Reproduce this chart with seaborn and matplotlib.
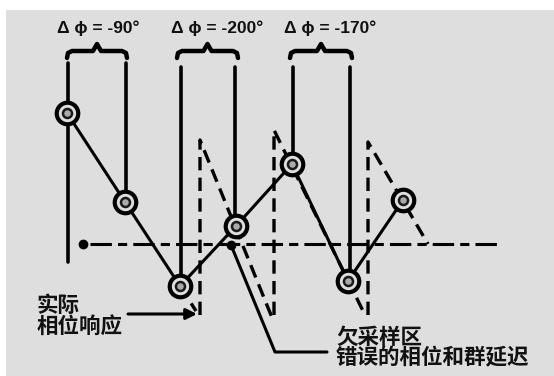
import numpy as np
import pandas as pd
import matplotlib
matplotlib.use("Agg")
import matplotlib.pyplot as plt
import seaborn as sns

# --- dados do diagrama (unidades do desenho: x = frequência, y = fase, eixo y invertido) ---
sample_x = [67, 125, 180, 236, 292, 348, 403]
sample_y = [113, 202, 286, 226, 164, 281, 200]

# fase verdadeira "enrolada" (dente de serra tracejado), um segmento por id
wrap_seg = [0, 0, 1, 1, 1, 2, 2, 2, 3, 3, 3]
wrap_x = [180, 196, 200, 200, 273, 274, 274, 365, 368, 368, 428]
wrap_y = [286, 311, 315, 140, 320, 315, 130, 315, 315, 142, 244]

# linhas verticais de referência (topo -> amostra)
vline_x = [68, 126, 181, 235, 293, 350]
vline_top = [63, 63, 67, 67, 67, 67]
vline_bottom = [262, 202, 286, 226, 165, 281]

# chaves e rótulos de delta fase
brace_left = [67, 177, 290]
brace_right = [127, 238, 352]
delta_labels = ["Δ ϕ = -90°", "Δ ϕ = -200°", "Δ ϕ = -170°"]
delta_label_x = [57, 171, 284]

# eixo tracejado-pontilhado
axis_x = [90, 497]
axis_y = [244, 244]
axis_dot = (83, 244)

# anotações
leader_x = [231, 275, 327]
leader_y = [245, 352, 352]
arrow_from = (128, 314)
arrow_to = (197, 314)

sns.set_theme(style="white")
plt.rcParams['font.family'] = ['Noto Sans CJK SC', 'DejaVu Sans']

GRAY = "#dedede"
fig = plt.figure(figsize=(5.54, 3.76), dpi=100, facecolor="white")
ax = fig.add_axes([6 / 554, 0, 548 / 554, 366 / 376], facecolor=GRAY)
ax.set_xlim(6, 554)
ax.set_ylim(376, 10)
ax.axis("off")
ax.add_patch(plt.Rectangle((6, 10), 548, 366, color=GRAY, zorder=0))

# linhas verticais sólidas
for x, t, b in zip(vline_x, vline_top, vline_bottom):
    sns.lineplot(x=[x, x], y=[t, b], color="black", lw=2.6, sort=False,
                 estimator=None, ax=ax)

# chaves
for l, r in zip(brace_left, brace_right):
    c = (l + r) / 2
    bx = [l, l + 1, l + 5, c - 4, c, c + 4, r - 5, r - 1, r]
    by = [58, 53, 51, 51, 44, 51, 51, 53, 58]
    ax.plot(bx, by, color="black", lw=3.2, solid_capstyle="round",
            solid_joinstyle="round")

for lab, x in zip(delta_labels, delta_label_x):
    ax.text(x, 28, lab, ha="left", va="center", fontsize=12.5,
            fontweight="bold", family=['Liberation Sans', 'DejaVu Sans'],
            color="#111111")

# eixo horizontal
ax.plot(axis_x, axis_y, color="black", lw=2.2, dashes=(7, 2, 3, 2))
ax.plot(*axis_dot, "o", color="black", ms=6)

# dente de serra tracejado
wrap_df = pd.DataFrame({"seg": wrap_seg, "x": wrap_x, "y": wrap_y})
for seg, g in wrap_df.groupby("seg"):
    ax.plot(g["x"], g["y"], color="black", lw=2.4, dashes=(4, 2.2))

# resposta amostrada (ziguezague sólido)
samp_df = pd.DataFrame({"x": sample_x, "y": sample_y})
sns.lineplot(data=samp_df, x="x", y="y", sort=False, estimator=None,
             color="black", lw=2.2, ax=ax)
sns.scatterplot(data=samp_df, x="x", y="y", s=15.5 ** 2, color=GRAY,
                edgecolor="black", linewidth=3.0, zorder=5, ax=ax)
sns.scatterplot(data=samp_df, x="x", y="y", s=6.5 ** 2, color="#aaaaaa",
                edgecolor="#1a1a1a", linewidth=1.8, zorder=6, ax=ax)

# linha indicadora e seta
ax.plot(leader_x, leader_y, color="black", lw=2.2)
ax.plot(leader_x[0], leader_y[0], "o", color="black", ms=6)
ax.annotate("", xy=arrow_to, xytext=arrow_from,
            arrowprops=dict(arrowstyle="-|>", color="black", lw=2.2,
                            mutation_scale=16, shrinkA=0, shrinkB=0))

ax.text(37, 305, "实际", ha="left", va="center", fontsize=15.5,
        fontweight="bold", color="#111111")
ax.text(37, 326, "相位响应", ha="left", va="center", fontsize=15.5,
        fontweight="bold", color="#111111")
ax.text(336, 337, "欠采样区", ha="left", va="center", fontsize=15.5,
        fontweight="bold", color="#111111")
ax.text(336, 358, "错误的相位和群延迟", ha="left", va="center",
        fontsize=15.5, fontweight="bold", color="#111111")

ax.set_xlabel("")
ax.set_ylabel("")
fig.savefig("out.png", dpi=100, facecolor="white")
